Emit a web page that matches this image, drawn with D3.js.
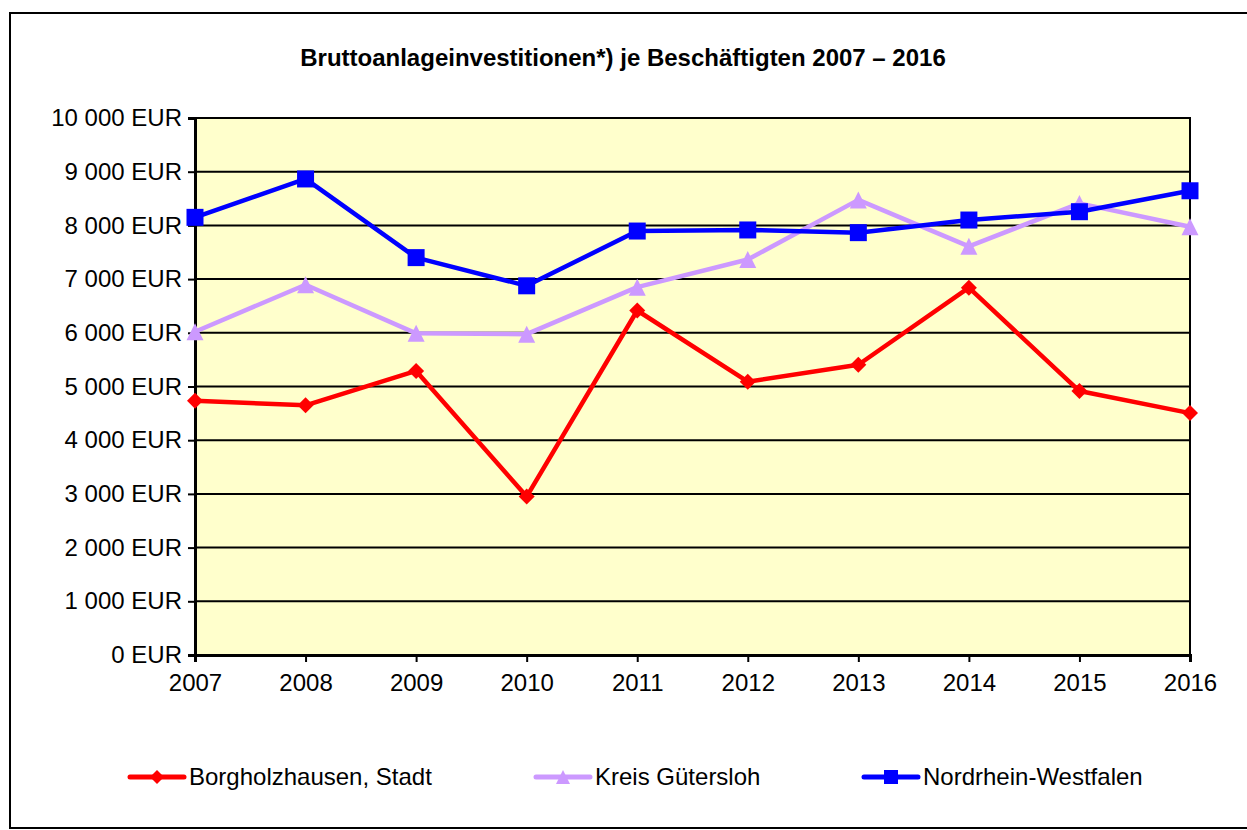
<!DOCTYPE html>
<html>
<head>
<meta charset="utf-8">
<script src="https://cdn.jsdelivr.net/npm/d3@7"></script>
<style>
  body { margin: 0; background: #fff; }
  svg { display: block; font-family: "Liberation Sans", Arial, sans-serif; }
</style>
</head>
<body>
<svg width="1247" height="830"></svg>
<script>
var years = [2007, 2008, 2009, 2010, 2011, 2012, 2013, 2014, 2015, 2016];
var borgholzhausen = [4735, 4650, 5290, 2950, 6415, 5090, 5405, 6840, 4915, 4505];
var kreisGuetersloh = [6020, 6895, 5990, 5975, 6850, 7365, 8475, 7610, 8410, 7975];
var nrw = [8150, 8865, 7400, 6875, 7895, 7915, 7865, 8100, 8255, 8645];
var yTicks = d3.range(0, 10001, 1000);
var title = "Bruttoanlageinvestitionen*) je Beschäftigten 2007 – 2016";

var series = [
  { name: "Borgholzhausen, Stadt", values: borgholzhausen, color: "#ff0000", marker: "diamond" },
  { name: "Kreis Gütersloh", values: kreisGuetersloh, color: "#cc99ff", marker: "triangle" },
  { name: "Nordrhein-Westfalen", values: nrw, color: "#0000ff", marker: "square" }
];

var svg = d3.select("svg");
var plotLeft = 195, plotRight = 1190, plotTop = 118, plotBottom = 655;

var x = d3.scaleLinear().domain([2007, 2016]).range([plotLeft, plotRight]);
var y = d3.scaleLinear().domain([0, 10000]).range([plotBottom, plotTop]);

var eur = d3.formatLocale({ decimal: ",", thousands: " ", grouping: [3], currency: ["", " EUR"] });
var fmt = function(d){ return eur.format(",")(d) + " EUR"; };

// outer frame
svg.append("rect")
  .attr("x", 10).attr("y", 13).attr("width", 1260).attr("height", 815)
  .style("fill", "#fff").style("stroke", "#000").style("stroke-width", 2);

// title
svg.append("text")
  .attr("x", 623).attr("y", 66)
  .attr("text-anchor", "middle")
  .style("font-size", "24px").style("font-weight", "bold")
  .text(title);

// plot area
svg.append("rect")
  .attr("x", plotLeft).attr("y", plotTop).attr("width", plotRight - plotLeft).attr("height", plotBottom - plotTop)
  .style("fill", "#ffffcc").style("stroke", "#000").style("stroke-width", 2);

// gridlines
svg.append("g").selectAll("line").data(yTicks.slice(1)).join("line")
  .attr("x1", plotLeft).attr("x2", plotRight)
  .attr("y1", d => y(d)).attr("y2", d => y(d))
  .style("stroke", "#000").style("stroke-width", 2);

// axes
var yAxis = svg.append("g").attr("transform", "translate(" + plotLeft + ",0)")
  .call(d3.axisLeft(y).tickValues(yTicks).tickFormat(fmt).tickSize(7).tickPadding(6));
var xAxis = svg.append("g").attr("transform", "translate(0," + plotBottom + ")")
  .call(d3.axisBottom(x).tickValues(years).tickFormat(d3.format("d")).tickSize(7).tickPadding(12));

[yAxis, xAxis].forEach(function(g){
  g.attr("font-family", null).attr("font-size", null);
  g.select(".domain").style("stroke", "#000").style("stroke-width", 3);
  g.selectAll(".tick line").style("stroke", "#000").style("stroke-width", 2);
  g.selectAll(".tick text").style("font-size", "24px").style("fill", "#000");
});

// marker shapes
function markerPath(type, s){
  if(type == "diamond") return "M0," + (-s) + "L" + s + ",0L0," + s + "L" + (-s) + ",0Z";
  if(type == "triangle") return "M0," + (-s) + "L" + s + "," + s + "L" + (-s) + "," + s + "Z";
  return "M" + (-s) + "," + (-s) + "H" + s + "V" + s + "H" + (-s) + "Z";
}
var markerSize = { diamond: 8, triangle: 8.5, square: 8.5 };

var line = d3.line().x((d, i) => x(years[i])).y(d => y(d));

series.forEach(function(s){
  var g = svg.append("g");
  g.append("path").datum(s.values)
    .attr("d", line)
    .style("fill", "none").style("stroke", s.color).style("stroke-width", 4.5)
    .style("stroke-linejoin", "round");
  g.selectAll("path.m").data(s.values).join("path")
    .attr("class", "m")
    .attr("transform", (d, i) => "translate(" + x(years[i]) + "," + y(d) + ")")
    .attr("d", markerPath(s.marker, markerSize[s.marker]))
    .style("fill", s.color);
});

// legend
var legendX = [130, 536, 864];
var legendY = 777;
series.forEach(function(s, i){
  var g = svg.append("g").attr("transform", "translate(" + legendX[i] + "," + legendY + ")");
  g.append("line").attr("x1", 0).attr("x2", 54).attr("y1", 0).attr("y2", 0)
    .style("stroke", s.color).style("stroke-width", 5).style("stroke-linecap", "round");
  g.append("path").attr("transform", "translate(27,0)")
    .attr("d", markerPath(s.marker, 7)).style("fill", s.color);
  g.append("text").attr("x", 59).attr("y", 0).attr("dy", "0.35em")
    .style("font-size", "24px").text(s.name);
});
</script>
</body>
</html>
